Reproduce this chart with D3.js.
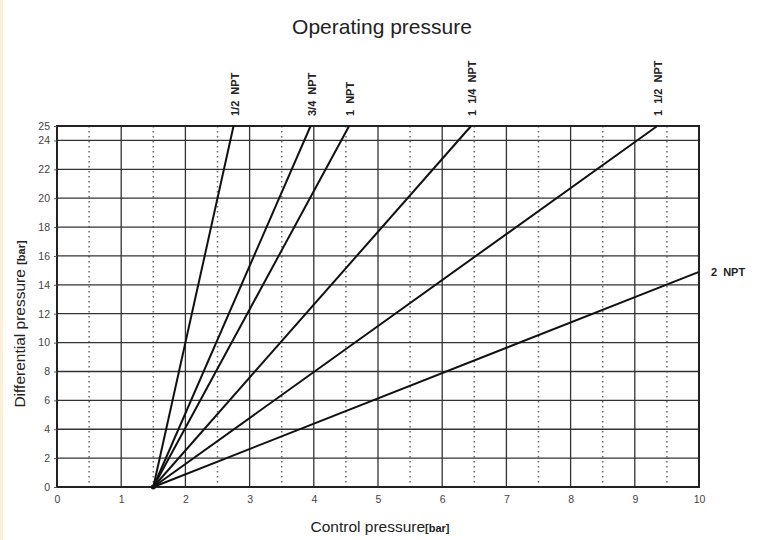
<!DOCTYPE html>
<html>
<head>
<meta charset="utf-8">
<script src="https://cdn.jsdelivr.net/npm/d3@7"></script>
<style>
  body { margin: 0; background: #fff; }
  svg { display: block; font-family: "Liberation Sans", Arial, sans-serif; }
</style>
</head>
<body>
<script>
// ---------------- data ----------------
const sizes = ["1/2 NPT", "3/4 NPT", "1 NPT", "1 1/4 NPT", "1 1/2 NPT", "2 NPT"];
const startX = [1.5, 1.5, 1.5, 1.5, 1.5, 1.5];
const startY = [0, 0, 0, 0, 0, 0];
const endX = [2.75, 3.95, 4.55, 6.45, 9.35, 10];
const endY = [25, 25, 25, 25, 25, 14.9];
const xTicks = [0, 1, 2, 3, 4, 5, 6, 7, 8, 9, 10];
const xHalf = [0.5, 1.5, 2.5, 3.5, 4.5, 5.5, 6.5, 7.5, 8.5, 9.5];
const yTicks = [0, 2, 4, 6, 8, 10, 12, 14, 16, 18, 20, 22, 24, 25];

// ---------------- layout ----------------
const width = 760, height = 540;
const plotLeft = 57, plotRight = 699, plotTop = 126, plotBottom = 487;

const x = d3.scaleLinear().domain([0, 10]).range([plotLeft, plotRight]);
const y = d3.scaleLinear().domain([0, 25]).range([plotBottom, plotTop]);

const svg = d3.select("body").append("svg")
    .attr("width", width)
    .attr("height", height);

// faint left border strip
svg.append("rect").attr("x", 0).attr("y", 0).attr("width", 3).attr("height", height)
    .attr("fill", "#fcf1d8");

// title
svg.append("text")
    .attr("x", 382).attr("y", 34)
    .attr("text-anchor", "middle")
    .attr("font-size", 21)
    .attr("fill", "#222")
    .text("Operating pressure");

// dotted half-unit verticals
svg.append("g").selectAll("line").data(xHalf).join("line")
    .attr("x1", d => x(d)).attr("x2", d => x(d))
    .attr("y1", y(25)).attr("y2", y(0))
    .attr("stroke", "#666")
    .attr("stroke-width", 1.5)
    .attr("stroke-dasharray", "1.5,3.5");

// solid verticals
svg.append("g").selectAll("line").data(xTicks).join("line")
    .attr("x1", d => x(d)).attr("x2", d => x(d))
    .attr("y1", y(25)).attr("y2", y(0))
    .attr("stroke", "#333")
    .attr("stroke-width", 1.3);

// horizontals
svg.append("g").selectAll("line").data(yTicks).join("line")
    .attr("x1", x(0)).attr("x2", x(10))
    .attr("y1", d => y(d)).attr("y2", d => y(d))
    .attr("stroke", "#333")
    .attr("stroke-width", 1.3);

// frame
svg.append("rect")
    .attr("x", x(0)).attr("y", y(25))
    .attr("width", x(10) - x(0)).attr("height", y(0) - y(25))
    .attr("fill", "none").attr("stroke", "#222").attr("stroke-width", 2);

// axes
const xAxis = d3.axisBottom(x).tickValues(xTicks).tickSize(0).tickPadding(9).tickFormat(d3.format("d"));
const yAxis = d3.axisLeft(y).tickValues(yTicks).tickSize(3).tickPadding(4).tickFormat(d3.format("d"));

const gx = svg.append("g").attr("transform", `translate(0,${plotBottom})`).call(xAxis);
const gy = svg.append("g").attr("transform", `translate(${plotLeft},0)`).call(yAxis);
[gx, gy].forEach(g => {
  g.select(".domain").remove();
  g.selectAll("text").attr("font-size", 10.5).attr("fill", "#444")
    .attr("font-family", "Liberation Sans, Arial, sans-serif");
  g.selectAll("line").attr("stroke", "#555");
});

// characteristic lines
svg.append("g").selectAll("line").data(sizes).join("line")
    .attr("x1", (d, i) => x(startX[i])).attr("y1", (d, i) => y(startY[i]))
    .attr("x2", (d, i) => x(endX[i])).attr("y2", (d, i) => y(endY[i]))
    .attr("stroke", "#111")
    .attr("stroke-width", 2);

// small dot at common origin
svg.append("circle").attr("cx", x(1.5)).attr("cy", y(0)).attr("r", 2.5).attr("fill", "#111");

// line labels
sizes.forEach((s, i) => {
  if (endY[i] >= 25) {
    svg.append("text")
      .attr("transform", `translate(${x(endX[i]) + 5},${y(25) - 10}) rotate(-90)`)
      .attr("font-size", 11).attr("font-weight", "bold").attr("fill", "#222")
      .attr("word-spacing", 3)
      .text(s);
  } else {
    svg.append("text")
      .attr("x", x(endX[i]) + 12).attr("y", y(endY[i]) + 4)
      .attr("font-size", 11).attr("font-weight", "bold").attr("fill", "#222")
      .attr("word-spacing", 3)
      .text(s);
  }
});

// axis titles
const xt = svg.append("text")
    .attr("x", 380).attr("y", 532)
    .attr("text-anchor", "middle")
    .attr("font-size", 15.5).attr("fill", "#222");
xt.append("tspan").text("Control pressure");
xt.append("tspan").attr("font-size", 11).attr("font-weight", "bold").text("[bar]");

const yt = svg.append("text")
    .attr("transform", "translate(25,324) rotate(-90)")
    .attr("text-anchor", "middle")
    .attr("font-size", 15.5).attr("fill", "#222");
yt.append("tspan").text("Differential pressure ");
yt.append("tspan").attr("font-size", 11).attr("font-weight", "bold").text("[bar]");
</script>
</body>
</html>
